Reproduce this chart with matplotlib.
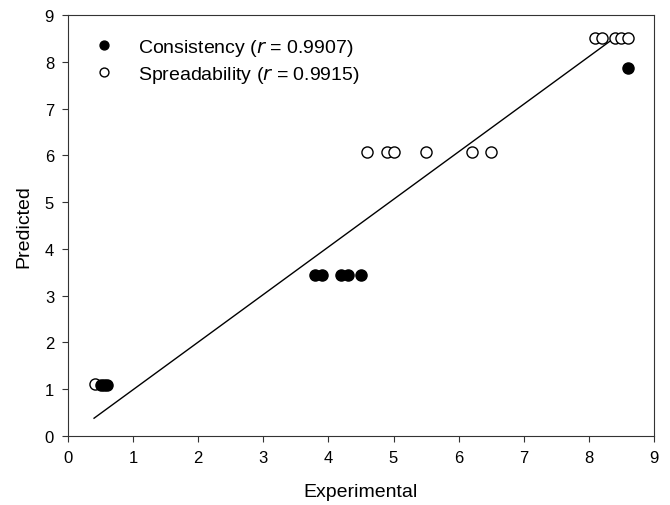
import matplotlib
matplotlib.use("Agg")
import matplotlib.pyplot as plt

plt.rcParams['font.family'] = ['Liberation Sans', 'DejaVu Sans']

cons_x = [0.5, 0.55, 0.6, 3.8, 3.9, 4.2, 4.3, 4.5, 8.6]
cons_y = [1.1, 1.1, 1.1, 3.44, 3.44, 3.44, 3.44, 3.44, 7.87]

spr_x = [0.42, 4.6, 4.9, 5.0, 5.5, 6.2, 6.5, 8.1, 8.2, 8.4, 8.5, 8.6]
spr_y = [1.12, 6.07, 6.07, 6.07, 6.07, 6.07, 6.07, 8.52, 8.52, 8.52, 8.52, 8.52]

fit_x = [0.4, 8.38]
fit_y = [0.38, 8.5]

fig = plt.figure(figsize=(6.7, 5.06), dpi=100)
ax = fig.add_axes([0.1015, 0.1364, 0.8745, 0.8316])

ax.plot(fit_x, fit_y, color='black', lw=1.0, zorder=1)
ax.plot(cons_x, cons_y, 'o', color='black', markersize=8, markeredgewidth=1.0,
        label='Consistency ($\\mathit{r}$ = 0.9907)', zorder=3)
ax.plot(spr_x, spr_y, 'o', markerfacecolor='white', markeredgecolor='black', markersize=8,
        markeredgewidth=1.0, label='Spreadability ($\\mathit{r}$ = 0.9915)', zorder=2)

ax.set_xlim(0, 9)
ax.set_ylim(0, 9)
ax.set_xticks(range(10))
ax.set_yticks(range(10))
for s in ax.spines.values():
    s.set_color('#333333')
ax.tick_params(direction='out', length=4, labelsize=12, pad=6, color='#333333')
ax.set_xlabel('Experimental', fontsize=14, labelpad=13)
ax.set_ylabel('Predicted', fontsize=14, labelpad=9)

ax.legend(loc='upper left', bbox_to_anchor=(0.032, 0.967), frameon=False, fontsize=14,
          handlelength=1.0, handletextpad=1.25, borderaxespad=0.0,
          labelspacing=0.3, markerscale=0.8)

fig.savefig('out.png', dpi=100)
